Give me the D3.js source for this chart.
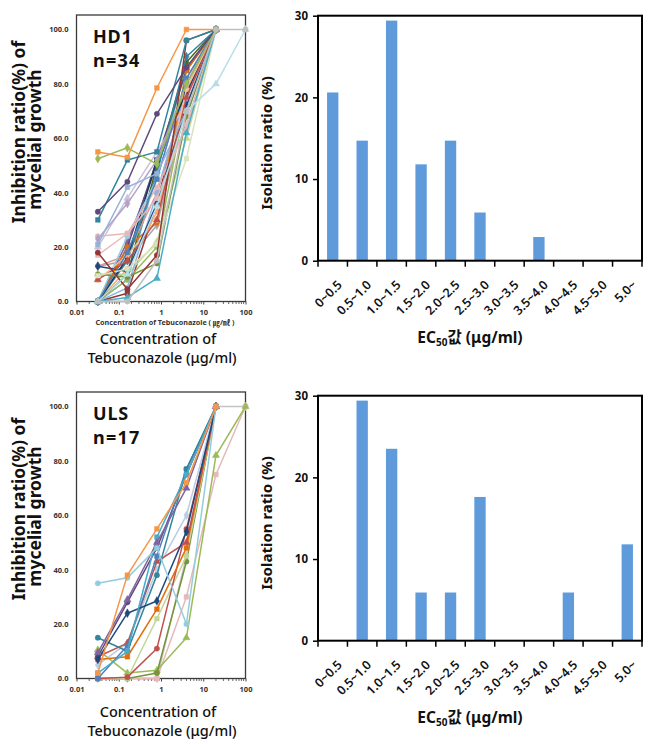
<!DOCTYPE html>
<html><head><meta charset="utf-8">
<script src="https://cdn.jsdelivr.net/npm/d3@7"></script>
<style>
body{margin:0;background:#fff}
text{font-family:"Noto Sans","Noto Sans CJK KR",sans-serif}
</style>
</head><body>
<svg id="c" width="657" height="744"></svg>
<script>
// ---------------- DATA ----------------
const concentrations = [0.032, 0.16, 0.8, 4, 20, 100];
const xTickValues = [0.01, 0.1, 1, 10, 100];
const xTickLabels = ["0.01", "0.1", "1", "10", "100"];
const yTickValuesLine = [0, 20, 40, 60, 80, 100];
const yTickLabelsLine = ["0.0", "20.0", "40.0", "60.0", "80.0", "100.0"];

const ecCategories = ["0~0.5","0.5~1.0","1.0~1.5","1.5~2.0","2.0~2.5","2.5~3.0","3.0~3.5","3.5~4.0","4.0~4.5","4.5~5.0","5.0~"];
const yTickValuesBar = [0, 10, 20, 30];
const hd1Ratio = [20.6, 14.7, 29.4, 11.8, 14.7, 5.9, 0, 2.9, 0, 0, 0];
const ulsRatio = [0, 29.4, 23.5, 5.9, 5.9, 17.6, 0, 0, 5.9, 0, 11.8];

// HD1 isolates: inhibition (%) at each concentration
const hd1Series = [
  [13, 15, 28, 72, 100],
  [0, 3, 36, 80, 100],
  [0, 8, 48, 86, 100],
  [0, 8, 20, 75, 100],
  [0, 22, 50, 76, 100],
  [0, 12, 33, 82, 100],
  [0, 10, 50, 88, 100],
  [0, 20, 52, 85, 100],
  [10, 10, 22, 60, 100],
  [13, 17, 40, 75, 100],
  [0, 5, 40, 78, 100],
  [0, 20, 29, 85, 100],
  [0, 15, 47, 90, 100],
  [0, 16, 52, 77, 100],
  [20, 38, 55, 73, 100],
  [0, 24, 45, 82, 100],
  [17, 25, 42, 64, 100],
  [8, 17, 30, 78, 100],
  [13, 11, 36, 72, 100],
  [0, 18, 45, 82, 100],
  [8, 15, 30, 75, 100],
  [10, 9, 14, 68, 100],
  [9.5, 12, 21, 52.5, 100],
  [24, 25, 38, 65, 100],
  [23, 36, 52, 80, 100],
  [21, 42, 47, 70, 100],
  [0, 1.5, 8.5, 62, 100],
  [18, 4.5, 17, 96, 100],
  [30, 52, 55, 96, 100],
  [33, 44, 69, 86, 100],
  [52.5, 56.5, 50.5, 80, 100],
  [55, 53, 78.5, 100, 100],
  [0, 10, 35, 70, 80, 100],
  [0, 0, 15, 70, 100, 100]
];
const hd1Colors = [
  "#A6A6A6","#953735","#4BACC6","#9BBB59","#8064A2","#F9AB6B",
  "#4F6228","#604A7B","#C3D69B","#D99694","#8EB4E3","#E46C0A",
  "#31859C","#17375E","#CCC1DA","#93CDDD","#E6B9B8","#FAC090",
  "#1F497D","#4F81BD","#C0504D","#77933C","#D7E4BD","#E6B9B8",
  "#B3A2C7","#95B3D7","#4BACC6","#943634","#31859C","#5F497A",
  "#9BBB59","#F79646","#B7DEE8","#BFBFBF"
];

// ULS isolates
const ulsSeries = [
  [0, 0, 0, 45, 100, 100],
  [0, 0, 0, 30, 75, 100],
  [10.5, 2, 3, 15, 82, 100],
  [0, 0, 2, 43, 100],
  [0, 0, 22, 45, 100],
  [0, 0.5, 11, 55, 100],
  [5, 13, 40, 60, 100],
  [7, 8, 25.5, 48, 100],
  [8, 13, 43, 50, 100],
  [8, 28, 48, 75, 100],
  [0, 12, 45, 77, 100],
  [15, 10, 38, 77, 100],
  [7, 24, 28.5, 54, 100],
  [2, 10, 52, 75, 100],
  [9.5, 29, 50, 70, 100],
  [35, 37, 48, 20, 100],
  [2, 38, 55, 72, 100]
];
const ulsColors = [
  "#C4C4C4","#E6B9B8","#9BBB59","#77933C","#C3D69B","#C0504D",
  "#B9CDE5","#E46C0A","#C0504D","#5F497A","#4F81BD","#31859C",
  "#1F497D","#4BACC6","#8064A2","#93CDDD","#F79646"
];

// ---------------- DRAW ----------------
const svg = d3.select("#c");
const symbols = [d3.symbolDiamond, d3.symbolSquare, d3.symbolTriangle, d3.symbolCircle, d3.symbolSquare, d3.symbolCircle];

function drawLinePanel(oy, series, colors, name, nLabel, showCaption) {
  const g = svg.append("g").attr("transform", `translate(0,${oy})`);
  const left = 76.5, right = 245.5, top = 15, bottom = 301.5;
  const x = d3.scaleLog().domain([0.01, 100]).range([left, right]);
  const y = d3.scaleLinear().domain([0, 100]).range([bottom, 29.5]);

  // frame
  g.append("rect").attr("x", left).attr("y", top).attr("width", right - left).attr("height", bottom - top)
    .attr("fill", "none").attr("stroke", "#3a3a3a").attr("stroke-width", 1.3);

  // x axis with log minor ticks
  const xAxis = d3.axisBottom(x).tickValues(xTickValues).tickSize(3).tickFormat((d, i) => xTickLabels[i]);
  const ax = g.append("g").attr("transform", `translate(0,${bottom})`).call(xAxis);
  ax.select(".domain").remove();
  ax.selectAll("line").attr("stroke", "#444");
  ax.selectAll("text").attr("font-size", 7.5).attr("font-weight", 700).attr("fill", "#333").attr("dy", "0.95em");
  const minor = [];
  for (let e = -2; e < 2; e++) for (let k = 2; k <= 9; k++) minor.push(k * Math.pow(10, e));
  g.append("g").selectAll("line").data(minor).join("line")
    .attr("x1", d => x(d)).attr("x2", d => x(d)).attr("y1", bottom).attr("y2", bottom + 2.5)
    .attr("stroke", "#444").attr("stroke-width", 0.8);

  // y axis
  const yAxis = d3.axisLeft(y).tickValues(yTickValuesLine).tickSize(0).tickPadding(8)
    .tickFormat((d, i) => yTickLabelsLine[i]);
  const ay = g.append("g").attr("transform", `translate(${left},0)`).call(yAxis);
  ay.select(".domain").remove();
  ay.selectAll("text").attr("font-size", 7.5).attr("font-weight", 700).attr("fill", "#333");

  // lines
  const line = d3.line().x((d, i) => x(concentrations[i])).y(d => y(d));
  series.forEach((s, si) => {
    const col = colors[si % colors.length];
    g.append("path").datum(s).attr("d", line).attr("fill", "none")
      .attr("stroke", col).attr("stroke-width", 1.5).attr("stroke-linejoin", "round");
    g.append("g").selectAll("path").data(s).join("path")
      .attr("transform", (d, i) => `translate(${x(concentrations[i])},${y(d)})`)
      .attr("d", d3.symbol().type(symbols[si % symbols.length]).size(22))
      .attr("fill", col).attr("stroke", col).attr("stroke-width", 0.5);
  });

  // panel labels
  g.append("text").attr("x", 93).attr("y", 42.5).attr("font-size", 18).attr("font-weight", 700)
    .attr("letter-spacing", 0.8).attr("fill", "#111").text(name);
  g.append("text").attr("x", 93).attr("y", 66.5).attr("font-size", 18).attr("font-weight", 700)
    .attr("letter-spacing", 1.2).attr("fill", "#111").text(nLabel);

  // axis titles
  const yt = g.append("text").attr("transform", "translate(25,132) rotate(-90)").attr("text-anchor", "middle")
    .attr("font-size", 17.5).attr("font-weight", 700).attr("fill", "#111");
  yt.append("tspan").attr("x", 0).attr("dy", 0).text("Inhibition ratio(%) of");
  yt.append("tspan").attr("x", -7.5).attr("dy", 15.5).text("mycelial growth");

  if (showCaption) {
    g.append("text").attr("x", 165).attr("y", 324.5).attr("text-anchor", "middle").attr("font-size", 7.2)
      .attr("font-weight", 700).attr("fill", "#333").text("Concentration of Tebuconazole ( ㎍/㎖ )");
  }
  const capOff = showCaption ? 0 : -4;
  g.append("text").attr("x", 158).attr("y", 343.5 + capOff).attr("text-anchor", "middle").attr("font-size", 14.5)
    .attr("font-weight", 500).attr("fill", "#111").text("Concentration of");
  g.append("text").attr("x", 162).attr("y", 362.5 + capOff).attr("text-anchor", "middle").attr("font-size", 14.5)
    .attr("font-weight", 500).attr("fill", "#111").text("Tebuconazole (μg/ml)");
}

function drawBarPanel(oy, values) {
  const g = svg.append("g").attr("transform", `translate(0,${oy})`);
  const left = 318, right = 642, top = 15.7, bottom = 260.7;
  const x = d3.scaleBand().domain(ecCategories).range([left, right]).paddingInner(0.615).paddingOuter(0.3075);
  const y = d3.scaleLinear().domain([0, 30]).range([bottom, top]);

  g.selectAll("rect.bar").data(values).join("rect").attr("class", "bar")
    .attr("x", (d, i) => x(ecCategories[i])).attr("width", x.bandwidth())
    .attr("y", d => y(d)).attr("height", d => bottom - y(d)).attr("fill", "#5F9BDA");

  g.append("rect").attr("x", left).attr("y", top).attr("width", right - left).attr("height", bottom - top)
    .attr("fill", "none").attr("stroke", "#000").attr("stroke-width", 2);

  // y axis
  const ay = g.append("g").attr("transform", `translate(${left},0)`)
    .call(d3.axisLeft(y).tickValues(yTickValuesBar).tickSize(5).tickPadding(5));
  ay.select(".domain").remove();
  ay.selectAll("line").attr("stroke", "#000").attr("stroke-width", 1.5);
  ay.selectAll("text").attr("font-size", 11.5).attr("font-weight", 700).attr("fill", "#111");

  // x boundaries ticks
  const step = x.step();
  const bounds = d3.range(ecCategories.length + 1).map(i => left + i * step);
  g.append("g").selectAll("line").data(bounds).join("line")
    .attr("x1", d => d).attr("x2", d => d).attr("y1", bottom).attr("y2", bottom + 6)
    .attr("stroke", "#000").attr("stroke-width", 1.5);

  g.append("g").selectAll("text").data(ecCategories).join("text")
    .attr("transform", d => `translate(${x(d) + x.bandwidth() / 2 + 10},${bottom + 25}) rotate(-45)`)
    .attr("text-anchor", "end").attr("font-size", 12.5).attr("font-weight", 600).attr("fill", "#111").text(d => d);

  // titles
  const xt = g.append("text").attr("x", 470).attr("y", 343).attr("text-anchor", "middle")
    .attr("font-size", 15.5).attr("font-weight", 700).attr("fill", "#111");
  xt.append("tspan").text("EC");
  xt.append("tspan").attr("font-size", 10).attr("dy", 3).text("50");
  xt.append("tspan").attr("dy", -3).text("값  (μg/ml)");

  g.append("text").attr("transform", "translate(272,143) rotate(-90)").attr("text-anchor", "middle")
    .attr("font-size", 15).attr("font-weight", 700).attr("fill", "#111").text("Isolation ratio (%)");
}

drawLinePanel(0, hd1Series, hd1Colors, "HD1", "n=34", true);
drawLinePanel(377, ulsSeries, ulsColors, "ULS", "n=17", false);
drawBarPanel(0, hd1Ratio);
drawBarPanel(380, ulsRatio);
</script>
</body></html>
